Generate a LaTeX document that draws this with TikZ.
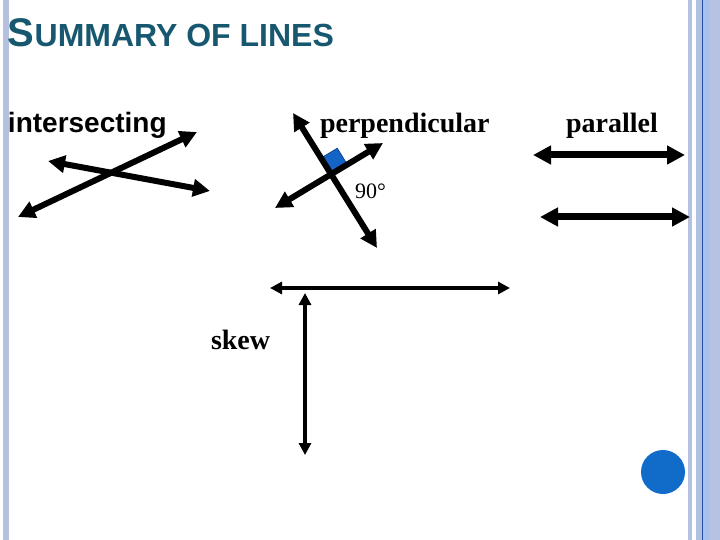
\documentclass[tikz,border=0pt]{standalone}
\usepackage{fontspec}
\setmainfont{Liberation Serif}
\newfontfamily\arialf{Liberation Sans}
\usetikzlibrary{arrows.meta}
\definecolor{titleteal}{RGB}{23,88,112}
\definecolor{stripeA}{RGB}{180,194,224}
\definecolor{stripeB}{RGB}{176,192,226}
\definecolor{stripeC}{RGB}{168,192,238}
\definecolor{stripeD}{RGB}{182,194,226}
\definecolor{darkline}{RGB}{40,80,160}
\definecolor{dotblue}{RGB}{16,108,200}
\definecolor{sqblue}{RGB}{20,100,200}
\tikzset{
  txt/.style={anchor=base west, inner sep=0pt, outer sep=0pt},
  bigline/.style={line width=6pt, {Triangle[length=17pt,width=17pt]}-{Triangle[length=17pt,width=17pt]}},
  parline/.style={line width=7pt, {Triangle[length=18pt,width=18pt]}-{Triangle[length=18pt,width=18pt]}},
  skewline/.style={line width=4.5pt, {Triangle[length=12pt,width=12pt]}-{Triangle[length=12pt,width=12pt]}},
}
\begin{document}
\begin{tikzpicture}[x=1pt,y=-1pt]
\useasboundingbox (0,0) rectangle (720,540);
\fill[white] (0,0) rectangle (720,540);
% borders
\fill[stripeA] (2.7,0) rectangle (8.7,540);
\fill[stripeA] (688,0) rectangle (692,540);
\fill[stripeB] (696,0) rectangle (702,540);
\fill[darkline] (702,0) rectangle (703.3,540);
\fill[stripeC] (703.3,0) rectangle (710,540);
\fill[stripeD] (710,0) rectangle (720,540);
% title
\node[txt, text=titleteal, font=\arialf\bfseries] (title) at (8,47)
  {{\fontsize{40}{40}\selectfont S}{\fontsize{32}{32}\selectfont UMMARY OF LINES}};
% labels
\node[txt, font=\arialf\bfseries\fontsize{28}{28}\selectfont] (lint) at (8,133) {intersecting};
\node[txt, font=\bfseries\fontsize{28}{28}\selectfont] (lperp) at (320,133) {perpendicular};
\node[txt, font=\bfseries\fontsize{28}{28}\selectfont] (lpar) at (566,133) {parallel};
\node[txt, font=\bfseries\fontsize{28}{28}\selectfont] (lskew) at (211,349) {skew};
\node[txt, font=\fontsize{22}{22}\selectfont] (ldeg) at (355,199) {90\textdegree};
% intersecting
\coordinate (i1a) at (18,217); \coordinate (i1b) at (197,132);
\coordinate (i2a) at (48,161); \coordinate (i2b) at (210,191);
\draw[bigline] (i1a) -- (i1b);
\draw[bigline] (i2a) -- (i2b);
% perpendicular
\coordinate (pA1) at (293,113); \coordinate (pA2) at (377,248);
\coordinate (pB1) at (275,208); \coordinate (pB2) at (383,143);
\coordinate (pc) at (331,174.2);
\filldraw[fill=sqblue, draw=sqblue!70!black, line width=0.8pt]
  (pc) -- ++(-0.528*19,-0.849*19) -- ++(0.857*19,-0.516*19) -- ++(0.528*19,0.849*19) -- cycle;
\draw[bigline] (pA1) -- (pA2);
\draw[bigline] (pB1) -- (pB2);
% parallel
\coordinate (q1a) at (533,155); \coordinate (q1b) at (685,155);
\coordinate (q2a) at (540,217); \coordinate (q2b) at (690,217);
\draw[parline] (q1a) -- (q1b);
\draw[parline] (q2a) -- (q2b);
% skew
\coordinate (s1a) at (270,288); \coordinate (s1b) at (510,288);
\coordinate (s2a) at (305,293); \coordinate (s2b) at (305,455);
\draw[skewline] (s1a) -- (s1b);
\draw[skewline] (s2a) -- (s2b);
% dot
\fill[dotblue] (663,472) circle (22);
\end{tikzpicture}
\end{document}
